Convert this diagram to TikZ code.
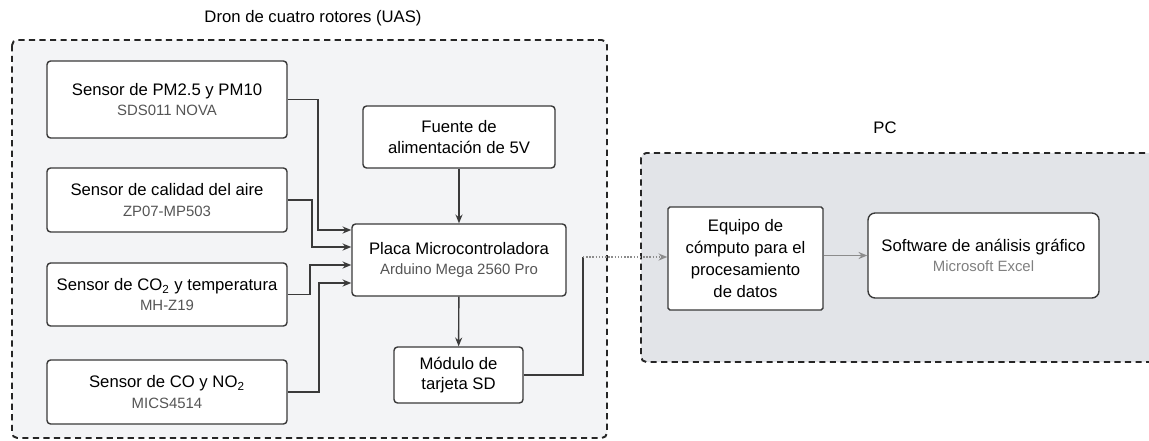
\documentclass[tikz,border=0pt]{standalone}
\usepackage{fontspec}
\setmainfont{Liberation Sans}
\usetikzlibrary{arrows.meta}

\definecolor{linegray}{HTML}{3A3A3A}
\definecolor{subgray}{HTML}{555555}
\definecolor{dronfill}{HTML}{F3F4F6}
\definecolor{pcfill}{HTML}{E2E4E8}

\newcommand{\subline}[1]{{\fontsize{8.5}{10}\selectfont\color{subgray}#1}}

\tikzset{
    box/.style={draw=linegray, fill=white, rounded corners=2pt, line width=0.8pt,
        align=center, inner sep=2pt, font=\fontsize{9.5}{11.5}\selectfont},
    group/.style={draw=black!85, dashed, dash pattern=on 3.5pt off 2.5pt,
        line width=1.1pt, rounded corners=3pt},
    link/.style={draw=linegray, line width=0.8pt, -{Stealth[length=5pt,width=4pt]}},
    wire/.style={draw=linegray, line width=0.8pt},
}

\begin{document}
\begin{tikzpicture}[x=0.02cm, y=-0.02cm, font=\fontsize{9.5}{12}\selectfont]
        \useasboundingbox (0,0) rectangle (1149,440);
        \clip (0,0) rectangle (1149,440);
        \fill[white] (0,0) rectangle (1149,440);

        % groups
        \draw[group, fill=dronfill] (12,40) rectangle (607,438);
        \draw[group, fill=pcfill] (641,153) rectangle (1170,362);
        \node (uas) at (313,18) {Dron de cuatro rotores (UAS)};
        \node (pc) at (885,128) {PC};

        % sensores
        \node[box, minimum width=4.8cm, minimum height=1.54cm] (pm) at (167,99.5)
            {Sensor de PM2.5 y PM10\\\subline{SDS011 NOVA}};
        \node[box, minimum width=4.8cm, minimum height=1.28cm] (aire) at (167,200)
            {Sensor de calidad del aire\\\subline{ZP07-MP503}};
        \node[box, minimum width=4.8cm, minimum height=1.26cm] (co2) at (167,294.5)
            {Sensor de CO\textsubscript{2} y temperatura\\\subline{MH-Z19}};
        \node[box, minimum width=4.8cm, minimum height=1.28cm] (cono2) at (167,392)
            {Sensor de CO y NO\textsubscript{2}\\\subline{MICS4514}};

        \node[box, minimum width=3.84cm, minimum height=1.24cm] (fuente) at (459,137)
            {Fuente de\\alimentación de 5V};
        \node[box, minimum width=4.28cm, minimum height=1.44cm] (placa) at (459,260)
            {Placa Microcontroladora\\\subline{Arduino Mega 2560 Pro}};
        \node[box, minimum width=2.58cm, minimum height=1.12cm] (sd) at (458.5,375)
            {Módulo de\\tarjeta SD};

        \node[box, rounded corners=1pt, minimum width=3.1cm, minimum height=2.06cm,
            font=\fontsize{9.5}{12.5}\selectfont] (equipo) at (745.5,258.5)
            {Equipo de\\cómputo para el\\procesamiento\\de datos};
        \node[box, rounded corners=4pt, minimum width=4.62cm, minimum height=1.7cm] (software) at (983.5,255.5)
            {Software de análisis gráfico\\{\fontsize{8.5}{10}\selectfont\color{black!50}Microsoft Excel}};

        \coordinate (bend) at (583,257);

        \draw[link] (pm.east) -| (318,230) -- (placa.west |- 0,230);
        \draw[link] (aire.east) -| (312,247) -- (placa.west |- 0,247);
        \draw[link] (co2.east) -| (310,265) -- (placa.west |- 0,265);
        \draw[link] (cono2.east) -| (319,283) -- (placa.west |- 0,283);
        \draw[link] (fuente) -- (placa);
        \draw[link] (placa) -- (sd);
        \draw[wire] (sd.east) -| (bend);
        \draw[link, draw=black!45, densely dotted] (bend) -- (equipo.west |- bend);
        \draw[link, draw=black!45] (equipo.east |- software) -- (software.west);
    \end{tikzpicture}
\end{document}
